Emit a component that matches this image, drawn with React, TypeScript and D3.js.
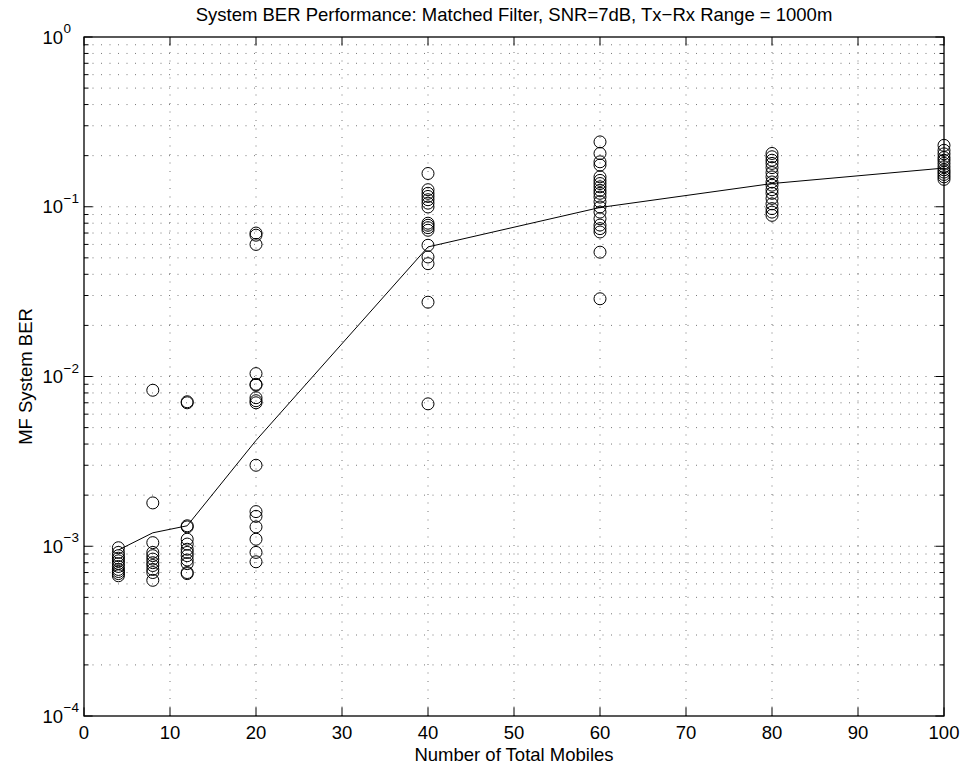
import React from "react";
import * as d3 from "d3";

// ---- data ----
const mobiles = [4, 8, 12, 20, 40, 60, 80, 100];
const ber4 = [0.00098, 0.00092, 0.00088, 0.00085, 0.00082, 0.00079, 0.00076, 0.00073, 0.00071, 0.00069, 0.00067];
const ber8 = [0.0083, 0.0018, 0.00105, 0.00092, 0.00088, 0.00084, 0.0008, 0.00077, 0.00073, 0.0007, 0.00063];
const ber12 = [0.0071, 0.007, 0.00132, 0.0013, 0.0011, 0.00103, 0.00096, 0.00092, 0.00088, 0.00083, 0.00079, 0.0007, 0.00069];
const ber20 = [0.07, 0.068, 0.06, 0.0104, 0.009, 0.0089, 0.0075, 0.0072, 0.007, 0.003, 0.0016, 0.0015, 0.0013, 0.0011, 0.00092, 0.00081];
const ber40 = [0.157, 0.126, 0.12, 0.115, 0.11, 0.105, 0.0997, 0.08, 0.0778, 0.0753, 0.0727, 0.0593, 0.0506, 0.0462, 0.0274, 0.0069];
const ber60 = [0.241, 0.206, 0.184, 0.176, 0.15, 0.143, 0.137, 0.131, 0.125, 0.12, 0.114, 0.107, 0.0997, 0.093, 0.085, 0.078, 0.0743, 0.071, 0.054, 0.0287];
const ber80 = [0.206, 0.197, 0.188, 0.18, 0.17, 0.159, 0.15, 0.14, 0.134, 0.126, 0.12, 0.112, 0.104, 0.0975, 0.093, 0.089];
const ber100 = [0.23, 0.215, 0.205, 0.195, 0.188, 0.18, 0.172, 0.165, 0.16, 0.155, 0.15, 0.145];
const meanBer = [0.00095, 0.0012, 0.00132, 0.0042, 0.058, 0.099, 0.137, 0.169];
const trialSets = [ber4, ber8, ber12, ber20, ber40, ber60, ber80, ber100];

const xTickValues = [0, 10, 20, 30, 40, 50, 60, 70, 80, 90, 100];
const yExponents = [0, -1, -2, -3, -4];

const titleText = "System BER Performance: Matched Filter, SNR=7dB, Tx\u2212Rx Range = 1000m";
const xLabelText = "Number of Total Mobiles";
const yLabelText = "MF System BER";

const W = 961;
const H = 768;
const FONT = "'Liberation Sans', Arial, Helvetica, sans-serif";

export default function App() {
  const x = d3.scaleLinear().domain([0, 100]).range([84, 944]);
  const y = d3.scaleLog().domain([1e-4, 1]).range([716, 37]);
  const [x0, x1] = x.range();
  const [yb, yt] = y.range();

  const minorVals: number[] = [];
  for (let e = -4; e < 0; e++) {
    for (let m = 2; m <= 9; m++) minorVals.push(m * Math.pow(10, e));
  }
  const majorVals = yExponents.map((e) => Math.pow(10, e));

  const points: { xv: number; yv: number }[] = [];
  trialSets.forEach((arr, i) => arr.forEach((v) => points.push({ xv: mobiles[i], yv: v })));

  const line = d3
    .line<number>()
    .x((_, i) => x(mobiles[i]))
    .y((d) => y(d));

  const dash = "1 7.5";
  const gridStroke = "#555";

  return (
    <div style={{ position: "absolute", left: 0, top: 0 }}>
      <svg width={W} height={H} style={{ display: "block", background: "#fff" }} fontFamily={FONT}>
        <rect x={0} y={0} width={W} height={H} fill="#fff" />
        {/* grid */}
        <g stroke={gridStroke} strokeWidth={0.8} strokeDasharray={dash} fill="none">
          {xTickValues.slice(1, -1).map((v) => (
            <line key={"gx" + v} x1={x(v)} x2={x(v)} y1={yb} y2={yt} />
          ))}
          {[...minorVals, ...majorVals.slice(1, -1)].map((v) => (
            <line key={"gy" + v} x1={x0} x2={x1} y1={y(v)} y2={y(v)} />
          ))}
        </g>
        {/* ticks */}
        <g stroke="#000" strokeWidth={1}>
          {xTickValues.map((v) => (
            <g key={"tx" + v}>
              <line x1={x(v)} x2={x(v)} y1={yb} y2={yb - 8.6} />
              <line x1={x(v)} x2={x(v)} y1={yt} y2={yt + 8.6} />
            </g>
          ))}
          {majorVals.map((v) => (
            <g key={"tym" + v}>
              <line x1={x0} x2={x0 + 8.6} y1={y(v)} y2={y(v)} />
              <line x1={x1} x2={x1 - 8.6} y1={y(v)} y2={y(v)} />
            </g>
          ))}
          {minorVals.map((v) => (
            <g key={"tyn" + v}>
              <line x1={x0} x2={x0 + 4.5} y1={y(v)} y2={y(v)} />
              <line x1={x1} x2={x1 - 4.5} y1={y(v)} y2={y(v)} />
            </g>
          ))}
        </g>
        {/* data */}
        <path d={line(meanBer) || ""} fill="none" stroke="#000" strokeWidth={1} />
        <g fill="none" stroke="#000" strokeWidth={1}>
          {points.map((p, i) => (
            <circle key={"c" + i} cx={x(p.xv)} cy={y(p.yv)} r={6} />
          ))}
        </g>
        {/* box */}
        <rect x={x0} y={yt} width={x1 - x0} height={yb - yt} fill="none" stroke="#000" strokeWidth={1.3} />
        {/* x tick labels */}
        <g fontSize={18.5} fill="#000" textAnchor="middle">
          {xTickValues.map((v) => (
            <text key={"lx" + v} x={x(v)} y={739}>
              {v}
            </text>
          ))}
        </g>
        {/* y tick labels */}
        <g fill="#000">
          {yExponents.map((e) => {
            const ty = y(Math.pow(10, e));
            return (
              <g key={"ly" + e}>
                <text x={63} y={ty + 6.5} fontSize={18.5} textAnchor="end">
                  10
                </text>
                <text x={63.5} y={ty - 4} fontSize={13.5} textAnchor="start">
                  {e === 0 ? "0" : "\u2212" + Math.abs(e)}
                </text>
              </g>
            );
          })}
        </g>
        {/* labels */}
        <text x={(x0 + x1) / 2} y={21} fontSize={18.5} textAnchor="middle" fill="#000">
          {titleText}
        </text>
        <text x={(x0 + x1) / 2} y={761} fontSize={18.5} textAnchor="middle" fill="#000">
          {xLabelText}
        </text>
        <text
          transform={`translate(32, ${(yb + yt) / 2}) rotate(-90)`}
          fontSize={18.5}
          textAnchor="middle"
          fill="#000"
        >
          {yLabelText}
        </text>
      </svg>
    </div>
  );
}
